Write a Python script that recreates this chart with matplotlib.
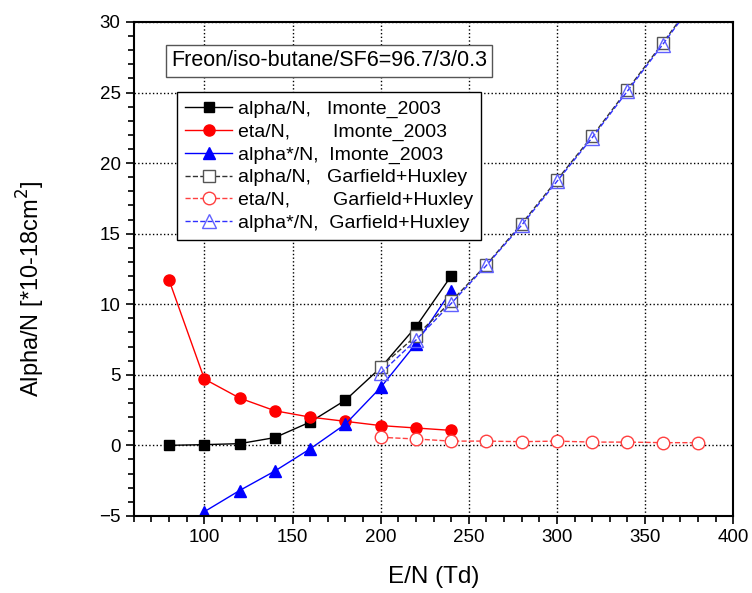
import numpy as np
import matplotlib.pyplot as plt
from matplotlib.ticker import MultipleLocator

plt.rcParams['font.family'] = ['Liberation Sans', 'DejaVu Sans']

# Imonte_2003 results
en_imonte = [80, 100, 120, 140, 160, 180, 200, 220, 240]
alpha_imonte = [0.0, 0.05, 0.12, 0.55, 1.65, 3.2, 5.5, 8.4, 12.0]
eta_imonte = [11.7, 4.7, 3.35, 2.45, 2.0, 1.7, 1.4, 1.23, 1.06]
en_alstar = [100, 120, 140, 160, 180, 200, 220, 240]
alstar_imonte = [-4.7, -3.2, -1.82, -0.25, 1.5, 4.1, 7.2, 10.95]

# Garfield+Huxley results
en_garf = [200, 220, 240, 260, 280, 300, 320, 340, 360, 380]
alpha_garf = [5.57, 7.74, 10.2, 12.8, 15.7, 18.8, 21.9, 25.2, 28.5, 31.9]
eta_garf = [0.57, 0.45, 0.3, 0.3, 0.26, 0.3, 0.23, 0.23, 0.19, 0.19]
alstar_garf = [5.1, 7.46, 10.05, 12.75, 15.6, 18.7, 21.8, 25.1, 28.4, 31.8]

fig = plt.figure(figsize=(7.52, 5.93), dpi=100)
ax = fig.add_axes([0.178, 0.130, 0.797, 0.833])

ax.plot(en_imonte, alpha_imonte, '-', color='black', lw=1, marker='s', ms=7,
        label='alpha/N,   Imonte_2003')
ax.plot(en_imonte, eta_imonte, '-', color='red', lw=1, marker='o', ms=8,
        label='eta/N,        Imonte_2003')
ax.plot(en_alstar, alstar_imonte, '-', color='blue', lw=1, marker='^', ms=9,
        label='alpha*/N,  Imonte_2003')
ax.plot(en_garf, alpha_garf, '--', color='#333333', lw=1, marker='s', ms=8,
        mfc='white', mec='#555555', label='alpha/N,   Garfield+Huxley')
ax.plot(en_garf, eta_garf, '--', color='#ff4040', lw=1, marker='o', ms=9,
        mfc='white', mec='#ff4040', label='eta/N,        Garfield+Huxley')
ax.plot(en_garf, alstar_garf, '--', color='#3030ff', lw=1, marker='^', ms=10,
        mfc='none', mec='#6060ff', label='alpha*/N,  Garfield+Huxley')

ax.set_xlim(60, 400)
ax.set_ylim(-5, 30)
ax.xaxis.set_major_locator(MultipleLocator(50))
ax.xaxis.set_minor_locator(MultipleLocator(10))
ax.yaxis.set_major_locator(MultipleLocator(5))
ax.yaxis.set_minor_locator(MultipleLocator(1))
ax.tick_params(which='both', direction='out', labelsize=13.5, width=1.2)
ax.tick_params(which='major', length=6)
ax.tick_params(which='minor', length=4)
ax.grid(True, which='major', linestyle=':', color='black', lw=1)
for sp in ax.spines.values():
    sp.set_linewidth(1.5)

ax.set_xlabel('E/N (Td)', fontsize=17.5)
ax.set_ylabel('Alpha/N [*10-18cm$^2$]', fontsize=17)
ax.xaxis.set_label_coords(0.5, -0.102)
ax.yaxis.set_label_coords(-0.145, 0.46)

ax.text(0.062, 0.921, 'Freon/iso-butane/SF6=96.7/3/0.3', transform=ax.transAxes,
        fontsize=15.5, va='center', ha='left',
        bbox=dict(boxstyle='square,pad=0.25', fc='white', ec='#555555', lw=1))

leg = ax.legend(loc='upper left', bbox_to_anchor=(0.072, 0.858), fontsize=14,
                numpoints=1, handlelength=2.4, fancybox=False, framealpha=1,
                edgecolor='black', borderaxespad=0, labelspacing=0.26,
                borderpad=0.42, handletextpad=0.3)
leg.get_frame().set_linewidth(1)

fig.savefig('out.png', dpi=100)
